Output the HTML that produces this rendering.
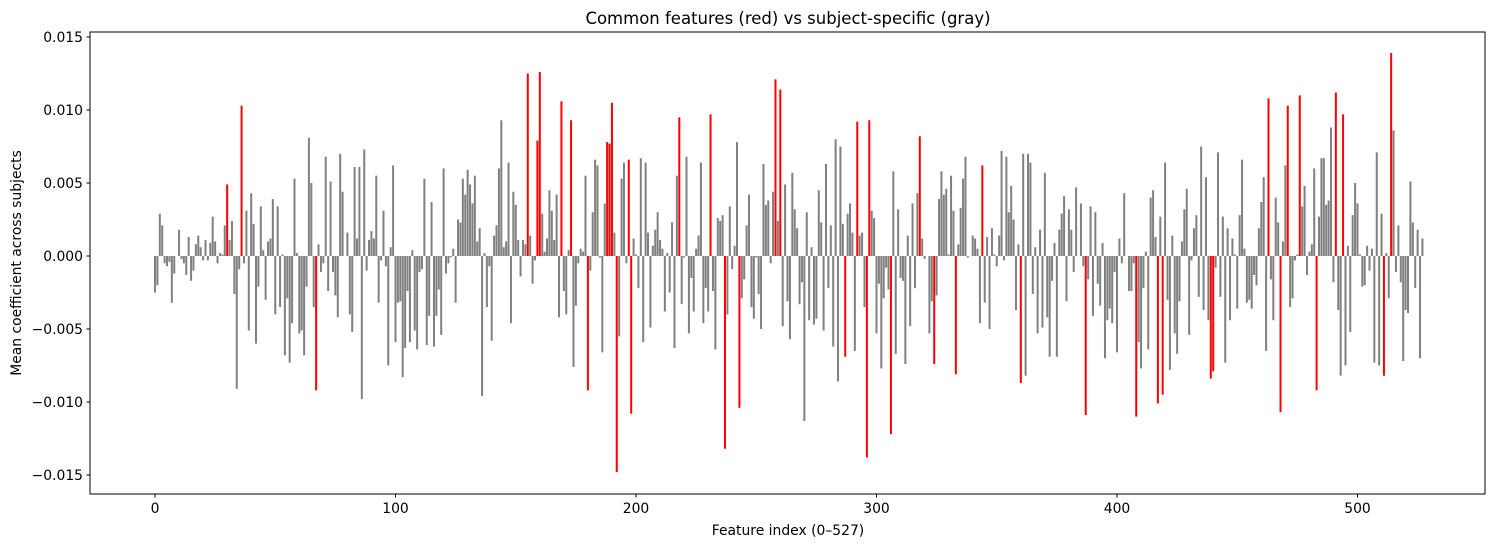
<!DOCTYPE html>
<html><head><meta charset="utf-8">
<style>
html,body{margin:0;padding:0;background:#fff;}
body{width:1495px;height:547px;overflow:hidden;font-family:"Liberation Sans","DejaVu Sans",sans-serif;}
svg text{font-family:"DejaVu Sans","Liberation Sans",sans-serif;}
</style></head>
<body>
<svg id="chart" width="1495" height="547" viewBox="0 0 1495 547" xmlns="http://www.w3.org/2000/svg">
<rect x="0" y="0" width="1495" height="547" fill="#fff"/>
<text x="788" y="24" font-size="16.5" text-anchor="middle" fill="#000">Common features (red) vs subject-specific (gray)</text>
<g id="bars"></g>
<g id="xticks"></g>
<g id="yticks"></g>
<rect x="90" y="32" width="1395" height="462" fill="none" stroke="#000" stroke-width="1"/>
<text x="788" y="535" font-size="13.9" text-anchor="middle" fill="#000">Feature index (0–527)</text>
<text x="21" y="263" font-size="13.9" text-anchor="middle" fill="#000" transform="rotate(-90 21 263)">Mean coefficient across subjects</text>
</svg>
<script>
// values in units of 0.001
const values = [
-2.5,-2.0,2.9,2.1,-0.5,-0.7,-0.4,-3.2,-1.2,0.0,1.8,-0.2,-0.5,-1.3,1.3,-1.7,-1.0,0.8,1.4,0.6,-0.3,1.1,-0.3,0.9,2.7,1.0,-0.5,0.2,0.1,2.1,4.9,1.1,2.4,-2.6,-9.1,-0.9,10.3,-0.5,3.1,-5.1,4.3,2.2,-6.0,
-2.1,3.4,0.4,-3.0,1.0,1.2,3.9,-4.0,3.4,-3.5,0.1,-6.8,-2.9,-7.3,-4.6,5.3,0.2,-5.3,-5.1,-6.8,-2.1,8.1,5.0,-3.5,-9.2,0.8,-1.1,-0.5,6.8,-2.4,5.1,-1.1,-2.7,-4.2,7.0,4.4,0.0,1.6,-4.0,-5.2,6.1,1.2,6.1,-9.8,
7.3,-1.0,1.1,1.7,1.2,5.5,-3.2,-0.3,3.1,-0.7,-7.5,0.6,6.2,-5.9,-3.2,-3.1,-8.3,-6.3,-2.4,-5.9,0.4,-5.1,-6.4,-1.1,-0.9,5.3,-6.1,-4.1,3.7,-6.2,-4.1,-2.3,-5.4,6.0,-1.2,-0.5,-0.1,0.5,-3.2,2.5,2.3,5.3,4.2,5.9,
4.9,3.6,5.5,1.0,1.9,-9.6,0.2,-3.5,-0.7,-5.8,1.4,2.1,6.0,9.3,0.6,1.0,6.4,-4.6,4.4,3.5,1.1,-1.4,1.1,0.8,12.5,1.4,-1.9,-0.3,7.9,12.6,2.9,0.3,1.2,4.5,3.1,1.1,4.2,-4.2,10.6,-2.4,-4.0,0.4,9.3,-7.6,
-3.4,-0.5,0.5,0.3,5.5,-9.2,-1.0,3.0,6.6,6.2,-0.1,-6.6,3.6,7.8,7.7,10.5,1.6,-14.8,-5.5,5.3,6.4,-0.5,6.6,-10.8,1.2,0.1,-2.2,6.7,-5.9,6.4,1.6,-4.9,0.7,1.8,3.0,1.1,0.5,-3.8,0.2,-2.5,2.3,-6.3,5.5,9.5,
-3.3,-0.1,6.8,-5.3,-1.5,-3.8,0.5,1.4,6.4,-4.6,-2.2,-3.8,9.7,-2.4,-6.4,2.6,2.4,2.8,-13.2,-4.0,3.4,-0.9,0.7,7.8,-10.4,-2.9,-1.6,2.1,4.2,-3.5,-4.3,-0.1,-2.6,-5.0,6.3,3.5,3.8,-0.5,4.4,12.1,2.4,11.4,-4.8,4.9,
-3.1,-5.7,5.7,3.2,1.9,-3.3,-1.8,-11.3,3.0,-4.4,0.6,-4.7,-4.3,4.5,2.3,-5.1,6.3,-2.2,2.1,-6.2,8.0,-8.6,7.5,2.2,-6.9,2.9,3.6,1.6,-6.5,9.2,1.4,1.6,-3.5,-13.8,9.3,3.1,2.6,-5.3,-1.9,-7.7,-2.9,-0.8,-2.3,-12.2,5.8,
-6.7,3.2,-1.5,-1.7,-7.4,1.4,-4.8,3.6,-2.2,4.3,8.2,1.2,-0.2,0.0,-5.3,-3.1,-7.4,-2.7,3.9,5.8,4.2,4.6,0.1,5.5,3.1,-8.1,0.8,3.3,5.3,6.8,-0.1,0.0,1.4,1.2,0.5,-4.6,6.2,-3.2,1.3,-5.0,1.9,0.1,-0.7,
1.4,7.2,-0.3,6.8,3.0,4.8,2.5,-3.7,0.8,-8.7,7.0,-8.2,7.0,6.4,-2.6,0.6,-5.3,1.8,-4.9,5.7,-4.2,-6.9,-1.7,0.9,-6.9,1.8,2.9,4.1,-3.1,3.2,1.8,-1.1,4.7,0.0,3.6,-0.7,-10.9,-1.6,3.4,-4.1,3.0,-1.9,-3.4,0.9,
-7.0,-4.4,-3.6,-4.6,-1.1,-6.6,1.2,-0.5,4.3,0.0,-2.4,-2.4,-0.5,-11.0,-5.9,-7.7,-2.2,0.3,-6.4,4.0,4.5,1.3,-10.1,2.7,-9.5,6.4,-3.0,-7.8,1.4,-5.3,-6.7,-3.1,1.0,3.2,4.6,-5.4,-0.3,1.9,2.8,-2.8,7.5,-3.7,5.4,-4.4,-8.4,
-7.9,-0.8,7.1,-2.8,2.7,-7.3,1.9,-4.4,1.2,0.1,-3.6,2.8,6.6,0.5,-3.2,-3.0,-3.6,-1.3,-2.0,1.9,3.7,5.4,-6.5,10.8,-1.6,-4.4,4.0,2.3,-10.7,1.0,6.2,10.3,-3.5,-2.9,-0.3,0.1,11.0,3.4,4.8,-1.3,0.3,0.8,6.0,-9.2,
2.7,6.7,6.7,3.5,3.8,8.8,-1.8,11.2,-3.7,-8.2,9.7,-7.5,0.7,-5.2,2.8,5.0,3.6,0.1,-2.1,-2.0,0.7,-1.0,0.5,-7.3,7.1,-7.5,2.9,-8.2,0.2,-2.9,13.9,8.6,-1.1,2.1,-1.8,-7.2,-3.7,-3.9,5.1,2.3,-2.2,1.8,-7.0,1.2
];
const commonIdx = [30,36,67,155,159,160,169,173,180,188,189,190,192,197,198,218,231,237,243,258,260,287,292,296,297,306,318,324,333,344,360,387,408,417,419,439,440,463,468,471,476,483,491,494,511,514];
const xTicks = [0,100,200,300,400,500];
const yTicks = [0.015,0.010,0.005,0.000,-0.005,-0.010,-0.015];
const yTickLabels = ["0.015","0.010","0.005","0.000","−0.005","−0.010","−0.015"];

const NS = "http://www.w3.org/2000/svg";
function xScale(i){ return 155 + i * 2.405; }
function yScale(v){ return 256 - v * 14600; }
const bars = document.getElementById('bars');
const common = new Set(commonIdx);
values.forEach(function(v, i){
  const val = v / 1000;
  const r = document.createElementNS(NS, 'rect');
  const y0 = yScale(0), y1 = yScale(val);
  r.setAttribute('x', (xScale(i) - 1.0).toFixed(2));
  r.setAttribute('width', '2.0');
  r.setAttribute('y', Math.min(y0, y1).toFixed(2));
  r.setAttribute('height', Math.abs(y1 - y0).toFixed(2));
  r.setAttribute('fill', common.has(i) ? '#ff0000' : '#808080');
  
  
  bars.appendChild(r);
});
const xg = document.getElementById('xticks');
xTicks.forEach(function(t){
  const x = xScale(t);
  const l = document.createElementNS(NS, 'line');
  l.setAttribute('x1', x); l.setAttribute('x2', x);
  l.setAttribute('y1', 494); l.setAttribute('y2', 497.5);
  l.setAttribute('stroke', '#000');
  
  
  xg.appendChild(l);
  const tx = document.createElementNS(NS, 'text');
  tx.setAttribute('x', x); tx.setAttribute('y', 513);
  tx.setAttribute('font-size', '13.9'); tx.setAttribute('text-anchor', 'middle');
  tx.textContent = String(t);
  
  
  xg.appendChild(tx);
});
const yg = document.getElementById('yticks');
yTicks.forEach(function(t, k){
  const y = yScale(t);
  const l = document.createElementNS(NS, 'line');
  l.setAttribute('x1', 86.5); l.setAttribute('x2', 90);
  l.setAttribute('y1', y); l.setAttribute('y2', y);
  l.setAttribute('stroke', '#000');
  
  
  yg.appendChild(l);
  const tx = document.createElementNS(NS, 'text');
  tx.setAttribute('x', 83); tx.setAttribute('y', y + 5);
  tx.setAttribute('font-size', '13.9'); tx.setAttribute('text-anchor', 'end');
  tx.textContent = yTickLabels[k];
  
  
  yg.appendChild(tx);
});
</script>
</body></html>
